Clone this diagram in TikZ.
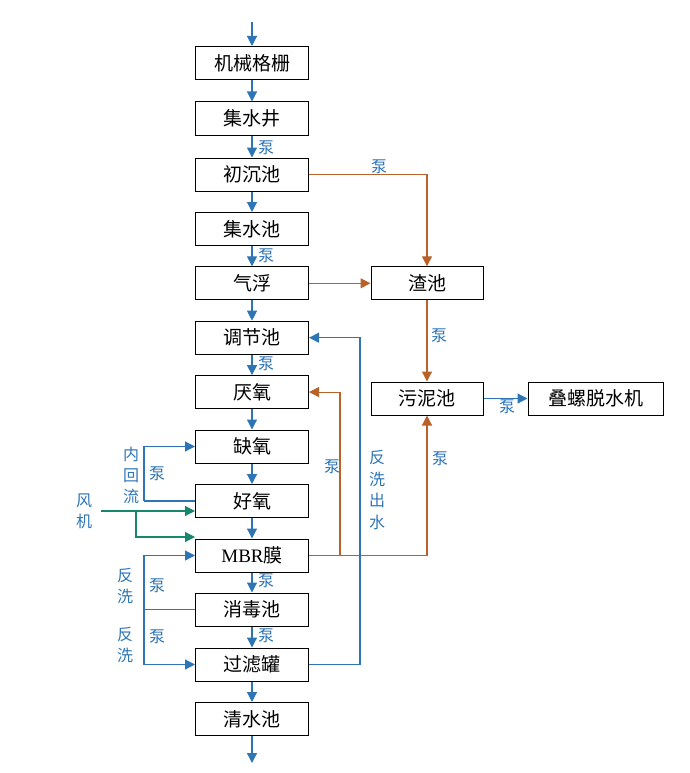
\documentclass[tikz,border=0pt]{standalone}
\usepackage{fontspec}
\setmainfont{Liberation Serif}
\newfontfamily\cjk{Noto Sans CJK SC}
\usetikzlibrary{arrows.meta}
\definecolor{lblue}{HTML}{2E75B6}
\definecolor{lorange}{HTML}{B8622A}
\definecolor{lgreen}{HTML}{16876C}
\begin{document}
\begin{tikzpicture}[x=1pt,y=-1pt,
  box/.style={draw=black,line width=1pt,minimum width=113pt,minimum height=33pt,inner sep=0pt,font=\cjk\fontsize{19}{22}\selectfont},
  bl/.style={draw=lblue,line width=1.2pt,-{Triangle[length=10pt,width=10pt]}},
  bline/.style={draw=lblue,line width=1.2pt},
  ol/.style={draw=lorange,line width=1.2pt,-{Triangle[length=10pt,width=10pt]}},
  oline/.style={draw=lorange,line width=1.2pt},
  gl/.style={draw=lgreen,line width=1.2pt,-{Triangle[length=10pt,width=10pt]}},
  gline/.style={draw=lgreen,line width=1.2pt},
  lab/.style={text=lblue,inner sep=0pt,font=\cjk\fontsize{16}{21}\selectfont,align=center}]
\useasboundingbox (0,0) rectangle (689,773);
% main column
\node[box] (jx) at (252,63) {机械格栅};
\node[box] (jsj) at (252,118.5) {集水井};
\node[box] (cc) at (252,174.5) {初沉池};
\node[box] (jsc) at (252,229) {集水池};
\node[box] (qf) at (252,283.3) {气浮};
\node[box] (tj) at (252,337.7) {调节池};
\node[box] (yy) at (252,392.1) {厌氧};
\node[box] (qy) at (252,446.5) {缺氧};
\node[box] (hy) at (252,501) {好氧};
\node[box] (mbr) at (252,555.5) {{\rmfamily MBR}膜};
\node[box] (xd) at (252,609.5) {消毒池};
\node[box] (gl) at (252,664.5) {过滤罐};
\node[box] (qs) at (252,719) {清水池};
% right column
\node[box,minimum width=112pt] (zc) at (427,283.3) {渣池};
\node[box,minimum width=112pt] (wn) at (427,398.5) {污泥池};
\node[box,minimum width=135pt] (dl) at (595.5,398.5) {叠螺脱水机};
% main flow
\coordinate (in) at (252,22);
\coordinate (out) at (252,763);
\draw[bl] (in) -- (jx);
\draw[bl] (jx) -- (jsj);
\draw[bl] (jsj) -- (cc);
\draw[bl] (cc) -- (jsc);
\draw[bl] (jsc) -- (qf);
\draw[bl] (qf) -- (tj);
\draw[bl] (tj) -- (yy);
\draw[bl] (yy) -- (qy);
\draw[bl] (qy) -- (hy);
\draw[bl] (hy) -- (mbr);
\draw[bl] (mbr) -- (xd);
\draw[bl] (xd) -- (gl);
\draw[bl] (gl) -- (qs);
\draw[bl] (qs) -- (out);
\node[lab] (p1) at (266,148) {泵};
\node[lab] (p2) at (266,256) {泵};
\node[lab] (p3) at (266,364) {泵};
\node[lab] (p4) at (266,581) {泵};
\node[lab] (p5) at (266,636) {泵};
% orange connections
\draw[ol] (cc.east) -| (zc.north);
\node[lab] (p6) at (379,167) {泵};
\draw[ol] (qf.east) -- (zc.west);
\draw[ol] (zc.south) -- (wn.north);
\node[lab] (p7) at (439,336) {泵};
\draw[ol] (mbr.east) -| (wn.south);
\node[lab] (p8) at (440,459) {泵};
\coordinate (br) at (340,555.5);
\draw[ol] (br) |- (yy.east);
\node[lab] (p9) at (332,467) {泵};
% sludge to dewatering
\draw[bl] (wn.east) -- (dl.west);
\node[lab] (p10) at (507,407) {泵};
% backwash water return
\coordinate (bw) at (360,664.5);
\draw[bline] (gl.east) -- (bw);
\draw[bl] (bw) |- (tj.east);
\node[lab,font=\cjk\fontsize{16}{21.5}\selectfont] (fxcs) at (377,490) {反\\洗\\出\\水};
% internal recycle
\coordinate (ir) at (144,501);
\draw[bline] (hy.west) -- (ir);
\draw[bl] (ir) |- (qy.west);
\node[lab] (nhl) at (131,475) {内\\回\\流};
\node[lab] (p11) at (157,474) {泵};
% blower
\node[lab] (fj) at (84,511) {风\\机};
\coordinate (fa) at (101,511);
\coordinate (fb) at (136,511);
\draw[gl] (fa) -- (fa -| hy.west);
\draw[gl] (fb) |- ([yshift=1.5pt]mbr.north west);
% backwash loops
\coordinate (bk) at (144,609.5);
\draw[bline] (xd.west) -- (bk);
\draw[bl] (bk) |- (mbr.west);
\draw[bl] (bk) |- (gl.west);
\node[lab] (fx1) at (125,586) {反\\洗};
\node[lab] (p12) at (157,586) {泵};
\node[lab] (fx2) at (125,645) {反\\洗};
\node[lab] (p13) at (157,637) {泵};
\end{tikzpicture}
\end{document}
